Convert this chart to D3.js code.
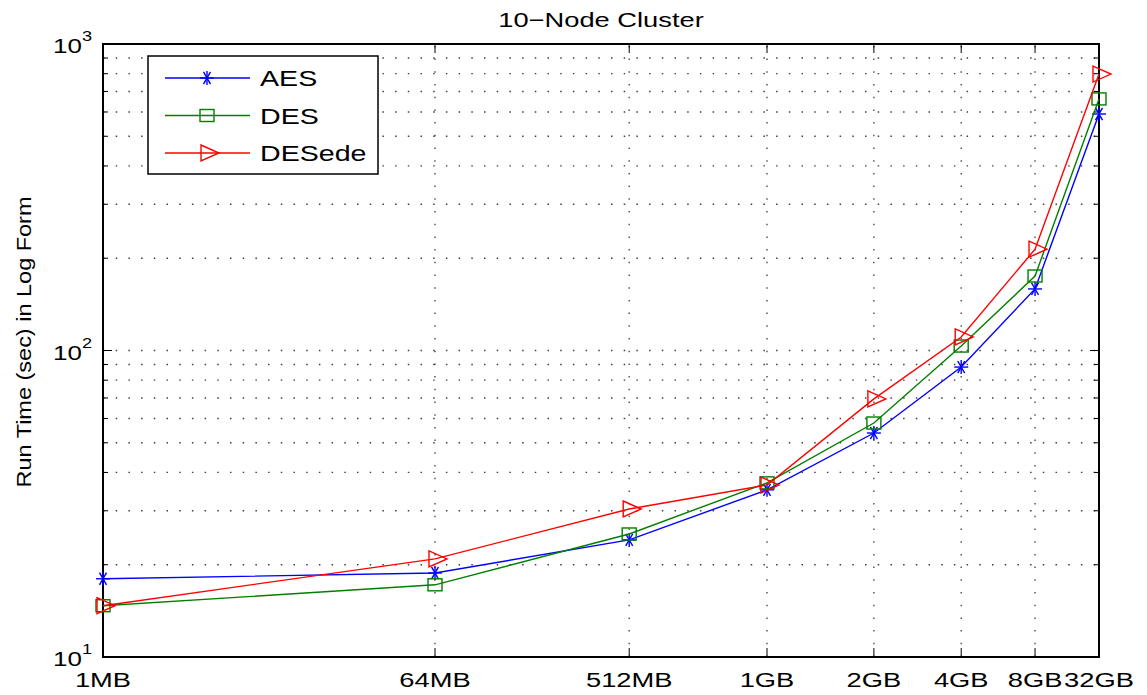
<!DOCTYPE html>
<html>
<head>
<meta charset="utf-8">
<script src="https://d3js.org/d3.v7.min.js"></script>
<style>
  body { margin: 0; background: #fff; }
  svg { font-family: "Liberation Sans", Arial, Helvetica, sans-serif; }
</style>
</head>
<body>
<div id="chart"></div>
<script>
// data
var sizes = ["1MB", "64MB", "512MB", "1GB", "2GB", "4GB", "8GB", "32GB"];
var aes = [18.0, 18.8, 24.1, 35.1, 53.8, 88.3, 158.8, 591];
var des = [14.7, 17.2, 25.2, 37.0, 58.0, 103.4, 175, 662];
var desede = [14.7, 20.9, 30.4, 36.4, 69.5, 110.7, 214, 798];
var seriesNames = ["AES", "DES", "DESede"];
var seriesColors = ["#0000ff", "#007f00", "#ff0000"];

var width = 1147, height = 695;
var margin = {top: 44, right: 48, bottom: 38, left: 103};
var sx = 1.3; // the original figure is stretched sideways

var svg = d3.select("#chart").append("svg")
  .attr("width", width).attr("height", height);

// x positions are log of the index 1..8
var x = d3.scaleLog().domain([1, 8]).range([margin.left, width - margin.right]);
var y = d3.scaleLog().domain([10, 1000]).range([height - margin.bottom, margin.top]);

var x0 = margin.left, x1 = width - margin.right;
var y0 = height - margin.bottom, y1 = margin.top;

var idx = sizes.map(function(d, i) { return i + 1; });

// y grid values
var yMinor = [];
[10, 100].forEach(function(dec) {
  for (var k = 2; k <= 9; k++) yMinor.push(dec * k);
});
var yMajor = [10, 100, 1000];

var grid = svg.append("g");
grid.selectAll(".hg").data(yMinor.concat([100])).enter().append("line")
  .attr("x1", x0).attr("x2", x1)
  .attr("y1", function(d) { return y(d); }).attr("y2", function(d) { return y(d); })
  .attr("stroke", "#000").attr("stroke-width", 1.3)
  .attr("stroke-dasharray", "1.5,11.2").attr("opacity", 0.75);
grid.selectAll(".vg").data(idx.slice(1, 7)).enter().append("line")
  .attr("y1", y0).attr("y2", y1)
  .attr("x1", function(d) { return x(d); }).attr("x2", function(d) { return x(d); })
  .attr("stroke", "#000").attr("stroke-width", 1.3)
  .attr("stroke-dasharray", "1.5,11.2").attr("opacity", 0.75);

// ticks inside the box
var ticks = svg.append("g").attr("stroke", "#000").attr("stroke-width", 1);
yMinor.forEach(function(v) {
  ticks.append("line").attr("x1", x0).attr("x2", x0 + 5).attr("y1", y(v)).attr("y2", y(v));
  ticks.append("line").attr("x1", x1).attr("x2", x1 - 5).attr("y1", y(v)).attr("y2", y(v));
});
yMajor.forEach(function(v) {
  ticks.append("line").attr("x1", x0).attr("x2", x0 + 9).attr("y1", y(v)).attr("y2", y(v));
  ticks.append("line").attr("x1", x1).attr("x2", x1 - 9).attr("y1", y(v)).attr("y2", y(v));
});
idx.forEach(function(v) {
  ticks.append("line").attr("y1", y0).attr("y2", y0 - 9).attr("x1", x(v)).attr("x2", x(v));
  ticks.append("line").attr("y1", y1).attr("y2", y1 + 9).attr("x1", x(v)).attr("x2", x(v));
});

// axis box
svg.append("rect")
  .attr("x", x0).attr("y", y1).attr("width", x1 - x0).attr("height", y0 - y1)
  .attr("fill", "none").attr("stroke", "#000").attr("stroke-width", 2);

// x tick labels
svg.append("g").selectAll("text").data(sizes).enter().append("text")
  .attr("transform", function(d, i) { return "translate(" + x(i + 1) + "," + (y0 + 30) + ") scale(" + sx + ",1)"; })
  .attr("text-anchor", "middle")
  .attr("font-size", 21)
  .text(function(d) { return d; });

// y tick labels 10^n
var yl = svg.append("g").selectAll("text").data(yMajor).enter().append("text")
  .attr("transform", function(d) { return "translate(" + (x0 - 11) + "," + (y(d) + 9) + ") scale(" + sx + ",1)"; })
  .attr("text-anchor", "end")
  .attr("font-size", 20);
yl.append("tspan").text("10");
yl.append("tspan").attr("dy", -12).attr("font-size", 14)
  .text(function(d) { return Math.round(Math.log10(d)); });

// title and y label
svg.append("text")
  .attr("transform", "translate(" + ((x0 + x1) / 2) + ",27) scale(" + sx + ",1)")
  .attr("text-anchor", "middle").attr("font-size", 21)
  .text("10\u2212Node Cluster");
svg.append("text")
  .attr("transform", "translate(31,342) rotate(-90)")
  .attr("text-anchor", "middle").attr("font-size", 21)
  .attr("textLength", 291).attr("lengthAdjust", "spacingAndGlyphs")
  .text("Run Time (sec) in Log Form");

// markers
function drawMarker(g, kind, color, cx, cy) {
  if (kind === 0) {
    var r = 7;
    [0, 60, 120].forEach(function(a) {
      var rad = a * Math.PI / 180;
      g.append("line")
        .attr("x1", cx - r * Math.cos(rad)).attr("y1", cy - r * Math.sin(rad))
        .attr("x2", cx + r * Math.cos(rad)).attr("y2", cy + r * Math.sin(rad))
        .attr("stroke", color).attr("stroke-width", 1.4);
    });
    g.append("line").attr("x1", cx).attr("x2", cx).attr("y1", cy - r).attr("y2", cy + r)
      .attr("stroke", color).attr("stroke-width", 1.4);
  } else if (kind === 1) {
    g.append("rect").attr("x", cx - 7).attr("y", cy - 6).attr("width", 14).attr("height", 12)
      .attr("fill", "none").attr("stroke", color).attr("stroke-width", 1.4);
  } else {
    g.append("path")
      .attr("d", "M" + (cx - 6) + "," + (cy - 8) + "L" + (cx + 12) + "," + cy + "L" + (cx - 6) + "," + (cy + 8) + "Z")
      .attr("fill", "none").attr("stroke", color).attr("stroke-width", 1.4);
  }
}

var allSeries = [aes, des, desede];
var line = d3.line()
  .x(function(d, i) { return x(i + 1); })
  .y(function(d) { return y(d); });

allSeries.forEach(function(vals, s) {
  var g = svg.append("g");
  g.append("path").datum(vals).attr("d", line)
    .attr("fill", "none").attr("stroke", seriesColors[s]).attr("stroke-width", 1.4);
  vals.forEach(function(v, i) {
    drawMarker(g, s, seriesColors[s], x(i + 1), y(v));
  });
});

// legend
var lg = svg.append("g");
lg.append("rect").attr("x", 148).attr("y", 56).attr("width", 230).attr("height", 118)
  .attr("fill", "#fff").attr("stroke", "#000").attr("stroke-width", 1.5);
seriesNames.forEach(function(name, s) {
  var ly = 78 + s * 37.5;
  lg.append("line").attr("x1", 165).attr("x2", 250).attr("y1", ly).attr("y2", ly)
    .attr("stroke", seriesColors[s]).attr("stroke-width", 1.4);
  drawMarker(lg, s, seriesColors[s], 207, ly);
  lg.append("text")
    .attr("transform", "translate(260," + (ly + 8) + ") scale(" + sx + ",1)")
    .attr("font-size", 22).text(name);
});
</script>
</body>
</html>
